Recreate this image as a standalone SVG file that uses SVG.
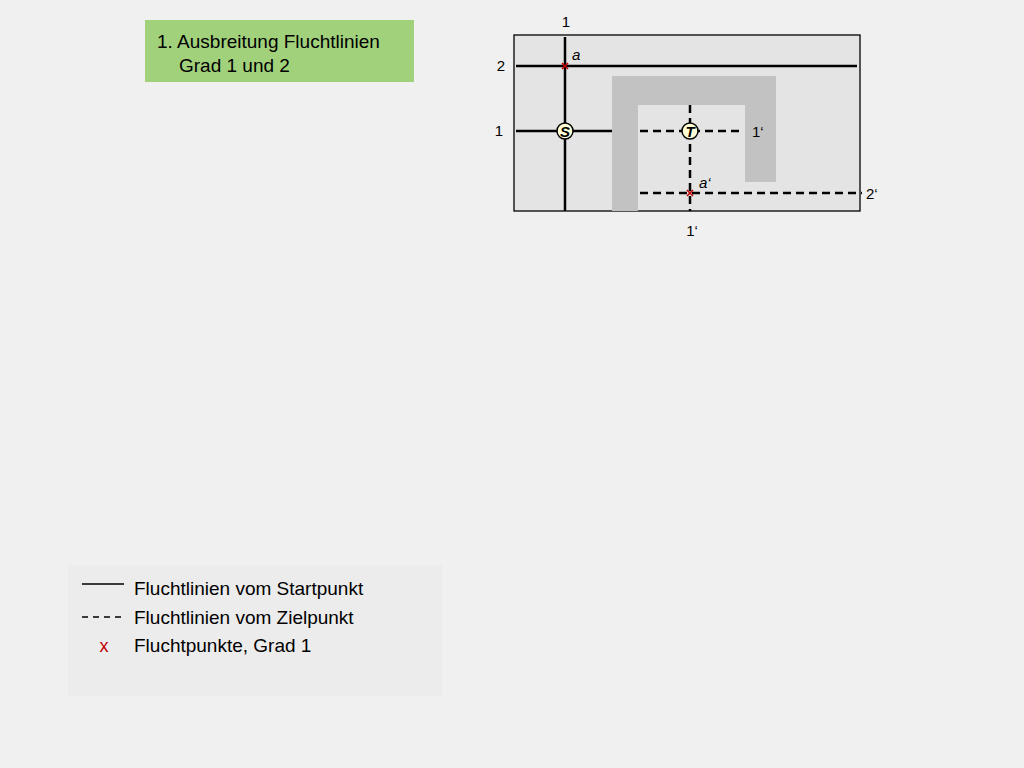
<svg xmlns="http://www.w3.org/2000/svg" width="1024" height="768" viewBox="0 0 1024 768">
<style>
text{font-family:"Liberation Sans",Arial,sans-serif;fill:#000}
.s{stroke:#000;stroke-width:2.5;fill:none}
.d{stroke:#000;stroke-width:2.5;fill:none;stroke-dasharray:8,5}
.x{stroke:#c00000;stroke-width:1.6}
.lbl{font-size:15px}
</style>
<rect width="1024" height="768" fill="#f0f0f0"/>
<g id="title"><rect x="145" y="20" width="269" height="62" fill="#a2d17c"/>
<text x="157" y="48" font-size="19">1. Ausbreitung Fluchtlinien</text>
<text x="179" y="72" font-size="19">Grad 1 und 2</text></g>
<g id="plan">
<rect x="514" y="35" width="346" height="176" fill="#e4e4e4" stroke="#000" stroke-width="1.3"/>
<path d="M612 76H776V182H745V105H638V211H612Z" fill="#c2c2c2"/>
</g>
<g id="connectors">
<line class="s" x1="565" y1="37" x2="565" y2="211"/>
<line class="s" x1="516" y1="66" x2="857" y2="66"/>
<line class="s" x1="516" y1="131" x2="612" y2="131"/>
<line class="d" x1="640" y1="131" x2="742" y2="131"/>
<line class="d" x1="690" y1="105" x2="690" y2="211"/>
<line class="d" x1="640" y1="193" x2="862" y2="193"/>
</g>
<g id="S"><circle cx="565" cy="131" r="8" fill="#ffffd8" stroke="#000" stroke-width="1.5"/><text x="565" y="137" font-size="15" font-weight="bold" font-style="italic" text-anchor="middle">S</text></g>
<g id="T"><circle cx="690" cy="131" r="8" fill="#ffffd8" stroke="#000" stroke-width="1.5"/><text x="690" y="137" font-size="15" font-weight="bold" font-style="italic" text-anchor="middle">T</text></g>
<g id="marks">
<path class="x" d="M562 63l6 6M568 63l-6 6"/>
<path class="x" d="M687 190l6 6M693 190l-6 6"/>
</g>
<g id="labels" class="lbl">
<text x="566" y="27" text-anchor="middle" class="lbl">1</text>
<text x="501" y="71" text-anchor="middle" class="lbl">2</text>
<text x="499" y="136" text-anchor="middle" class="lbl">1</text>
<text x="572" y="60" font-style="italic" class="lbl">a</text>
<text x="752" y="137" class="lbl">1‘</text>
<text x="699" y="188" font-style="italic" class="lbl">a‘</text>
<text x="866" y="199" class="lbl">2‘</text>
<text x="692" y="236" text-anchor="middle" class="lbl">1‘</text>
</g>
<g id="legend">
<rect x="68" y="565" width="374" height="131" fill="#ececec"/>
<line x1="82" y1="584" x2="124" y2="584" stroke="#000" stroke-width="1.5"/>
<line x1="82" y1="617" x2="124" y2="617" stroke="#000" stroke-width="1.5" stroke-dasharray="6,5"/>
<text x="104" y="652" font-size="18" fill="#c00000" style="fill:#c00000" text-anchor="middle">x</text>
<text x="134" y="595" font-size="19">Fluchtlinien vom Startpunkt</text>
<text x="134" y="624" font-size="19">Fluchtlinien vom Zielpunkt</text>
<text x="134" y="652" font-size="19">Fluchtpunkte, Grad 1</text>
</g>
</svg>
